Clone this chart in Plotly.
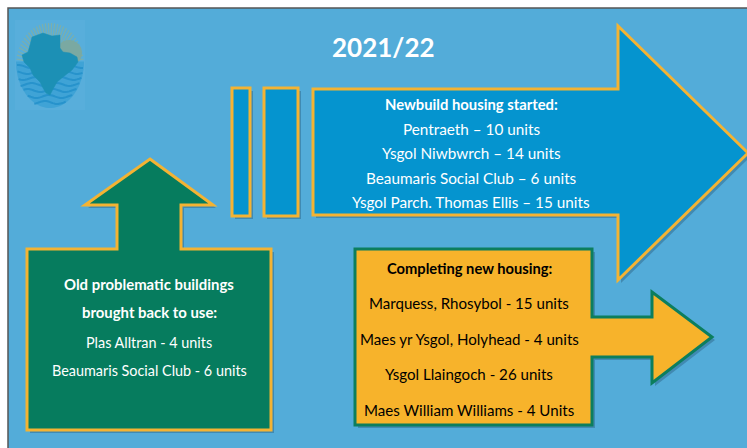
import numpy as np
import plotly.graph_objects as go

# ---- content ----
title_text = "2021/22"
newbuild_header = "Newbuild housing started:"
newbuild_items = ["Pentraeth – 10 units", "Ysgol Niwbwrch – 14 units",
                  "Beaumaris Social Club – 6 units", "Ysgol Parch. Thomas Ellis – 15 units"]
old_header = ["Old problematic buildings", "brought back to use:"]
old_items = ["Plas Alltran - 4 units", "Beaumaris Social Club - 6 units"]
complete_header = "Completing new housing:"
complete_items = ["Marquess, Rhosybol - 15 units", "Maes yr Ysgol, Holyhead - 4 units",
                  "Ysgol Llaingoch - 26 units", "Maes William Williams - 4 Units"]

W, H = 747, 448
BG = "#53ACD9"
BLUE = "#0594CF"
GREEN = "#067C5E"
ORANGE = "#F7B32B"
EDGE_O = "#F4B333"
EDGE_G = "#0C7E5E"
FONT = "Lato"

fig = go.Figure()
shapes = []

def path(pts):
    return "M " + " L ".join(f"{x},{y}" for x, y in pts) + " Z"

def add_poly(pts, fill, line, lw=3, shadow=True):
    if shadow:
        sp = [(x + 3, y + 3) for x, y in pts]
        shapes.append(dict(type="path", path=path(sp), fillcolor="rgba(0,20,40,0.22)",
                           line=dict(width=0), layer="above"))
    shapes.append(dict(type="path", path=path(pts), fillcolor=fill,
                       line=dict(color=line, width=lw), layer="above"))

# background + border
shapes.append(dict(type="rect", x0=0, y0=0, x1=W, y1=H, fillcolor="white", line=dict(width=0), layer="below"))
shapes.append(dict(type="rect", x0=8, y0=8, x1=W + 5, y1=H + 5, fillcolor=BG,
                   line=dict(color="#555555", width=1.5), layer="below"))

# ---- logo ----
cx, cy, rx, ry = 50, 65.5, 34, 42.5
shapes.append(dict(type="rect", x0=15, y0=20, x1=85, y1=110, fillcolor="#58AEDB",
                   line=dict(width=0), layer="above"))
for a in np.linspace(np.pi * 1.02, np.pi * 1.98, 34):
    x1 = cx + rx * np.cos(a); y1 = cy + ry * np.sin(a)
    x0 = cx + rx * 0.55 * np.cos(a); y0 = cy + ry * 0.55 * np.sin(a)
    shapes.append(dict(type="line", x0=x0, y0=y0, x1=x1, y1=y1,
                       line=dict(color="#7DAFAA", width=1.2), layer="above"))
shapes.append(dict(type="circle", x0=56, y0=40, x1=82, y1=66, fillcolor="#7AA9A2",
                   line=dict(width=0), layer="above"))
t = np.linspace(0, np.pi, 40)
sea = [(cx + rx * np.cos(a), cy - 4 + (ry + 4) * np.sin(a)) for a in t]
sea = [(cx + rx, cy - 4)] + sea + [(cx - rx, cy - 4)]
shapes.append(dict(type="path", path=path([(round(x, 1), round(y, 1)) for x, y in sea]),
                   fillcolor="#3FA3D6", line=dict(width=0), layer="above"))
for k, yy in enumerate(np.arange(cy + 1, cy + ry - 2, 6)):
    half = rx * np.sqrt(max(0.0, 1 - ((yy - cy) / ry) ** 2)) - 1
    xs = np.linspace(cx - half, cx + half, 30)
    ys = yy + 1.5 * np.sin((xs - cx) / 4.0 + k)
    p = "M " + " L ".join(f"{x:.1f},{y:.1f}" for x, y in zip(xs, ys))
    shapes.append(dict(type="path", path=p, line=dict(color="#2793CC", width=2), layer="above"))
island = [(32, 37), (43, 33), (52, 36), (60, 35), (60, 48), (63, 52), (70, 53), (77, 57),
          (78, 62), (72, 70), (63, 77), (57, 82), (53, 89), (50, 95), (46, 93), (43, 88),
          (40, 82), (33, 75), (30, 68), (24, 62), (22, 55), (28, 52), (30, 45)]
shapes.append(dict(type="path", path=path(island), fillcolor="#1C90B5",
                   line=dict(color="#1C90B5", width=0.5), layer="above"))

# ---- big blue arrow + stripes ----
add_poly([(232, 88), (250, 88), (250, 216), (232, 216)], BLUE, EDGE_O)
add_poly([(264, 88), (298, 88), (298, 216), (264, 216)], BLUE, EDGE_O)
add_poly([(313, 89), (618, 89), (618, 26), (748, 153), (618, 280), (618, 215), (313, 215)], BLUE, EDGE_O)

# ---- green up arrow ----
add_poly([(150, 159), (213, 205), (181, 205), (181, 249), (271, 249), (271, 430),
          (27, 430), (27, 249), (117, 249), (117, 205), (85, 205)], GREEN, EDGE_O)

# ---- orange right arrow ----
add_poly([(355, 249), (592, 249), (592, 317), (652, 317), (652, 292), (712, 337),
          (652, 383), (652, 357), (592, 357), (592, 425), (355, 425)], ORANGE, EDGE_G)

annotations = []
def txt(x, y, s, size, color, bold=False):
    annotations.append(dict(x=x, y=y, xref="x", yref="y", text=f"<b>{s}</b>" if bold else s,
                            showarrow=False, xanchor="center", yanchor="middle",
                            font=dict(family=FONT, size=size, color=color)))

txt(383, 47, title_text, 26, "white", True)
txt(471, 104, newbuild_header, 14.8, "white", True)
for i, s in enumerate(newbuild_items):
    txt(471, 128.5 + i * 24.5, s, 15.3, "white")
for i, s in enumerate(old_header):
    txt(149, 284 + i * 28, s, 14.9, "white", True)
for i, s in enumerate(old_items):
    txt(149, 342 + i * 28.5, s, 14.4, "white")
txt(469, 268, complete_header, 14.7, "black", True)
for i, s in enumerate(complete_items):
    txt(469, 303 + i * 35.7, s, 15.1, "black")

fig.update_layout(
    width=W, height=H, margin=dict(l=0, r=0, t=0, b=0),
    paper_bgcolor="white", plot_bgcolor="white",
    xaxis=dict(range=[0, W], visible=False, fixedrange=True),
    yaxis=dict(range=[H, 0], visible=False, fixedrange=True),
    shapes=shapes, annotations=annotations, showlegend=False,
)
fig.write_html("out.html", config={"displayModeBar": False},
               post_script="document.body.style.margin='0';document.body.style.overflow='hidden';")
